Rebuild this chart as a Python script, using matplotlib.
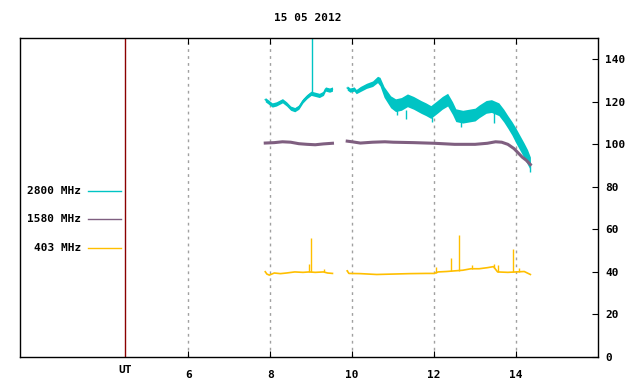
import numpy as np
import matplotlib
matplotlib.use("Agg")
import matplotlib.pyplot as plt
import matplotlib.transforms as mtransforms

plt.rcParams['font.family'] = ['DejaVu Sans Mono']
plt.rcParams['font.weight'] = 'bold'
plt.rcParams['font.size'] = 8

# 2800 MHz (two segments), centre value and half band width
t2800_a = [7.88, 7.95, 8.05, 8.15, 8.30, 8.40, 8.50, 8.60, 8.70, 8.80, 8.90, 9.00,
           9.10, 9.20, 9.30, 9.35, 9.45, 9.52]
v2800_a = [121, 120, 118.5, 119, 120.5, 119, 117, 116.3, 117.5, 120.5, 122.5, 124,
           123.5, 123, 124, 126, 125.5, 126]
w2800_a = [1.0] * len(t2800_a)
t2800_b = [9.88, 9.95, 10.05, 10.10, 10.20, 10.35, 10.50, 10.62, 10.68, 10.78, 10.94,
           11.06, 11.20, 11.35, 11.50, 11.68, 11.80, 11.92, 12.08, 12.20, 12.33, 12.45,
           12.53, 12.70, 12.85, 13.00, 13.10, 13.27, 13.40, 13.58, 13.70, 13.80, 13.90,
           14.00, 14.10, 14.20, 14.28, 14.35]
v2800_b = [126.5, 125.5, 126, 124.8, 126, 127.5, 128.5, 130.5, 129.5, 124.6, 120,
           118.4, 119, 120.7, 119.5, 117.6, 116.5, 115.2, 117.6, 119.5, 121, 117,
           113.7, 113, 113.5, 114, 115.5, 117.6, 118, 116.5, 113.5, 110.5, 107.5,
           104, 100.5, 97, 94, 91]
w2800_b = [1.0, 1.0, 1.0, 1.0, 1.2, 1.2, 1.3, 1.5, 2.0, 2.5, 2.8,
           3.0, 3.0, 3.0, 3.0, 3.0, 3.0, 3.0, 3.0, 3.0, 3.0, 3.0,
           3.0, 3.0, 3.0, 3.0, 3.0, 3.0, 3.0, 3.0, 3.0, 3.0, 3.2,
           3.5, 3.5, 3.5, 3.5, 3.0]
spike2800_t = [9.03, 11.10, 11.31, 11.96, 12.65, 13.47, 14.33]
spike2800_from = [124.5, 116, 116, 113, 112, 115, 91]
spike2800_to = [155, 113.7, 112, 110.5, 108, 110, 87]

# 1580 MHz
t1580_a = [7.88, 8.10, 8.30, 8.50, 8.70, 8.90, 9.10, 9.30, 9.52]
v1580_a = [100.6, 100.8, 101.2, 101, 100.3, 100, 99.8, 100.2, 100.5]
t1580_b = [9.88, 10.00, 10.20, 10.50, 10.80, 11.00, 11.50, 12.00, 12.50, 13.00, 13.30,
           13.50, 13.65, 13.80, 13.95, 14.05, 14.15, 14.25, 14.35]
v1580_b = [101.5, 101.2, 100.6, 101, 101.2, 101, 100.8, 100.5, 100, 100, 100.5,
           101.2, 101, 100, 98, 96, 94, 92.5, 90.5]

# 403 MHz
t403_a = [7.88, 7.92, 7.98, 8.10, 8.25, 8.40, 8.60, 8.80, 8.95, 9.10, 9.30, 9.40, 9.52]
v403_a = [40.1, 39, 38.5, 39.5, 39.2, 39.5, 40, 39.8, 40, 39.8, 40, 39.5, 39.3]
t403_b = [9.88, 9.92, 10.20, 10.60, 11.00, 11.40, 11.80, 12.00, 12.10, 12.30, 12.50,
          12.70, 12.90, 13.10, 13.30, 13.45, 13.55, 13.80, 14.00, 14.20, 14.35]
v403_b = [40.5, 39.3, 39.2, 38.8, 39, 39.2, 39.3, 39.3, 40, 40.2, 40.5,
          40.8, 41.5, 41.5, 42, 42.5, 40, 39.8, 40, 40.2, 38.8]
spike403_t = [8.94, 8.99, 9.31, 9.88, 12.04, 12.41, 12.61, 12.92, 13.47, 13.57, 13.93, 14.08]
spike403_v = [43.7, 55.8, 41.5, 41, 42.4, 46.4, 57.3, 43.2, 43.7, 43.2, 50.7, 42]

labels = ['2800 MHz', '1580 MHz', '403 MHz']
colors = ['#00c4c4', '#7f5f80', '#ffbf00']
xticks = [6, 8, 10, 12, 14]
yticks = [0, 20, 40, 60, 80, 100, 120, 140]
ut_pos = 4.456

fig = plt.figure(figsize=(6.4, 3.84), dpi=100)
ax = fig.add_axes([20 / 640, 27 / 384, 578 / 640, 319 / 384])

# 2800 MHz
for t, v, w in [(t2800_a, v2800_a, w2800_a), (t2800_b, v2800_b, w2800_b)]:
    t = np.array(t); v = np.array(v); w = np.array(w)
    ax.fill_between(t, v - w, v + w, color=colors[0], lw=0)
    ax.plot(t, v, color=colors[0], lw=1)
ax.vlines(spike2800_t, spike2800_from, spike2800_to, color=colors[0], lw=1)

# 1580 MHz
for t, v in [(t1580_a, v1580_a), (t1580_b, v1580_b)]:
    ax.plot(t, v, color=colors[1], lw=2.2)

# 403 MHz
for t, v in [(t403_a, v403_a), (t403_b, v403_b)]:
    ax.plot(t, v, color=colors[2], lw=1.2)
ax.vlines(spike403_t, np.interp(spike403_t, t403_a + t403_b, v403_a + v403_b),
          spike403_v, color=colors[2], lw=1)

# grid and UT marker
for x in xticks:
    ax.axvline(x, color='#a0a0a0', lw=1, ls=(0, (2, 3)), zorder=0)
ax.axvline(ut_pos, color='#8b0000', lw=1)

ax.set_xlim(1.895, 16.0)
ax.set_ylim(0, 150)
ax.set_xticks(xticks)
ax.set_yticks(yticks)
ax.tick_params(axis='x', direction='in', length=4, top=True, pad=9, labelsize=8)
ax.tick_params(axis='y', direction='in', length=4, left=False, right=True,
               labelleft=False, labelright=True, pad=5, labelsize=8)
for s in ax.spines.values():
    s.set_linewidth(1)

trans = mtransforms.blended_transform_factory(ax.transData, ax.transAxes)
ax.text(ut_pos, -0.04, 'UT', transform=trans, ha='center', va='center')

# legend on the left side
leg_y = [0.519, 0.432, 0.341]
for lab, c, y in zip(labels, colors, leg_y):
    ax.text(0.106, y, lab, transform=ax.transAxes, ha='right', va='center')
    ax.plot([0.118, 0.175], [y, y], transform=ax.transAxes, color=c, lw=1)

fig.text(308 / 640, 1 - 18 / 384, '15 05 2012', ha='center', va='center')

fig.savefig('out.png', dpi=100)
